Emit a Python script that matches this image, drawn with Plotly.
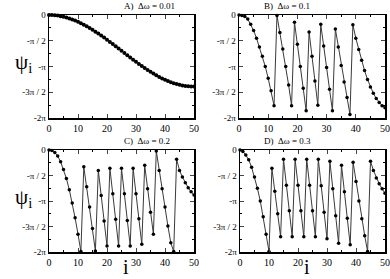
import plotly.graph_objects as go

i_vals = list(range(51))

# psi_i values in units of pi
psi_A = [0, -0.001, -0.006, -0.012, -0.022, -0.034, -0.049, -0.066, -0.086, -0.108,
         -0.133, -0.160, -0.188, -0.219, -0.252, -0.287, -0.323, -0.360, -0.399, -0.439,
         -0.480, -0.522, -0.565, -0.608, -0.651, -0.695, -0.739, -0.782, -0.825, -0.868,
         -0.910, -0.951, -0.991, -1.030, -1.067, -1.104, -1.138, -1.171, -1.202, -1.231,
         -1.257, -1.282, -1.304, -1.324, -1.341, -1.356, -1.368, -1.378, -1.385, -1.389,
         -1.390]
psi_B = [0, -0.01, -0.03, -0.08, -0.18, -0.30, -0.45, -0.62, -0.80, -1.00,
         -1.23, -1.47, -1.76, -0.01, -0.34, -0.66, -1.00, -1.36, -1.76, -0.14,
         -0.57, -1.00, -1.42, -1.86, -0.33, -0.80, -1.28, -1.75, -0.18, -0.60,
         -1.02, -1.44, -1.86, -0.27, -0.62, -0.98, -1.30, -1.60, -1.93, -0.19,
         -0.45, -0.67, -0.88, -1.08, -1.25, -1.40, -1.52, -1.62, -1.70, -1.76,
         -1.80]
psi_C = [0, -0.01, -0.05, -0.12, -0.23, -0.38, -0.56, -0.78, -1.04, -1.33,
         -1.65, -1.99, -0.33, -0.72, -1.12, -1.54, -1.98, -0.40, -0.89, -1.39,
         -1.88, -0.36, -0.86, -1.36, -1.88, -0.36, -0.86, -1.38, -1.88, -0.36,
         -0.86, -1.35, -1.85, -0.30, -0.76, -1.22, -1.65, -0.02, -0.40, -0.76,
         -1.12, -1.49, -1.82, -1.99, -0.18, -0.40, -0.53, -0.64, -0.74, -0.82,
         -0.88]
psi_D = [0, -0.03, -0.10, -0.19, -0.34, -0.53, -0.75, -1.00, -1.31, -1.65,
         -1.99, -0.36, -0.81, -1.25, -1.70, -0.18, -0.69, -1.19, -1.70, -0.18,
         -0.69, -1.19, -1.70, -0.18, -0.69, -1.19, -1.70, -0.18, -0.70, -1.22,
         -1.74, -0.22, -0.76, -1.29, -1.83, -0.30, -0.82, -1.34, -1.86, -0.24,
         -0.62, -1.00, -1.35, -1.68, -1.99, -0.22, -0.40, -0.55, -0.66, -0.76,
         -0.85]

titles = ["A)  \u0394\u03c9 = 0.01", "B)  \u0394\u03c9 = 0.1",
          "C)  \u0394\u03c9 = 0.2", "D)  \u0394\u03c9 = 0.3"]
ytick_vals = [0, -0.5, -1, -1.5, -2]
ytick_text = ["0", "-\u03c0 / 2", "-\u03c0", "-3\u03c0 / 2", "-2\u03c0"]
xtick_vals = [0, 10, 20, 30, 40, 50]

W, H = 390, 279
ML, MR, MT, MB = 49, 390 - 385, 15, 279 - 252
PW, PH = W - ML - MR, H - MT - MB


def px(x):  # window pixel -> paper fraction
    return (x - ML) / PW


def py(y):
    return 1 - (y - MT) / PH


boxes = [(49, 194, 15, 118), (239, 385, 15, 118),
         (49, 194, 150, 252), (240, 385, 150, 252)]
title_y = [6, 6, 141, 141]
series = [psi_A, psi_B, psi_C, psi_D]

fig = go.Figure()
font_name = "Liberation Serif"
for k, (x0, x1, y0, y1) in enumerate(boxes):
    n = "" if k == 0 else str(k + 1)
    fig.add_trace(go.Scatter(
        x=i_vals, y=series[k], mode="lines+markers",
        line=dict(color="#3a3a3a", width=1),
        marker=dict(color="black", size=3.5 if k else 4),
        xaxis="x" + n, yaxis="y" + n, showlegend=False, cliponaxis=False,
        hoverinfo="skip"))
    fig.layout["xaxis" + n] = dict(
        domain=[max(0, px(x0)), min(1, px(x1))], anchor="y" + n, range=[0, 50],
        tickvals=xtick_vals, ticks="inside", ticklen=4, mirror="ticks",
        showline=True, linecolor="black", linewidth=1.5, showgrid=False, zeroline=False,
        automargin=False,
        tickfont=dict(family=font_name, size=10, color="black"),
        minor=dict(dtick=5, ticks="inside", ticklen=2, tickcolor="black"))
    fig.layout["yaxis" + n] = dict(
        domain=[max(0, py(y1)), min(1, py(y0))], anchor="x" + n, range=[-2, 0],
        tickvals=ytick_vals, ticktext=ytick_text, ticks="inside", ticklen=4,
        mirror="ticks", showline=True, linecolor="black", linewidth=1.5,
        showgrid=False, zeroline=False, automargin=False,
        tickfont=dict(family=font_name, size=9, color="black"),
        minor=dict(dtick=0.25, ticks="inside", ticklen=2, tickcolor="black"))
    fig.add_annotation(text=titles[k], x=px((x0 + x1) / 2), y=py(title_y[k]),
                       xref="paper", yref="paper", showarrow=False, yanchor="middle",
                       font=dict(family=font_name, size=9, color="black"))

for yc in [63, 198]:
    fig.add_annotation(text="\u03c8<sub>i</sub>", x=px(13), y=py(yc),
                       xref="paper", yref="paper", showarrow=False, yanchor="middle",
                       font=dict(family=font_name, size=21, color="black"))
for xc in [121, 312]:
    fig.add_annotation(text="i", x=px(xc), y=py(267),
                       xref="paper", yref="paper", showarrow=False, yanchor="middle",
                       font=dict(family=font_name, size=20, color="black"))

fig.update_layout(width=W, height=H, margin=dict(l=ML, r=MR, t=MT, b=MB),
                  plot_bgcolor="white", paper_bgcolor="white", hovermode=False)
# remove the browser's default 8px body margin so the figure fills the window
fig.write_html("out.html", config={"displayModeBar": False, "staticPlot": True},
               post_script="document.body.style.margin='0px';")
